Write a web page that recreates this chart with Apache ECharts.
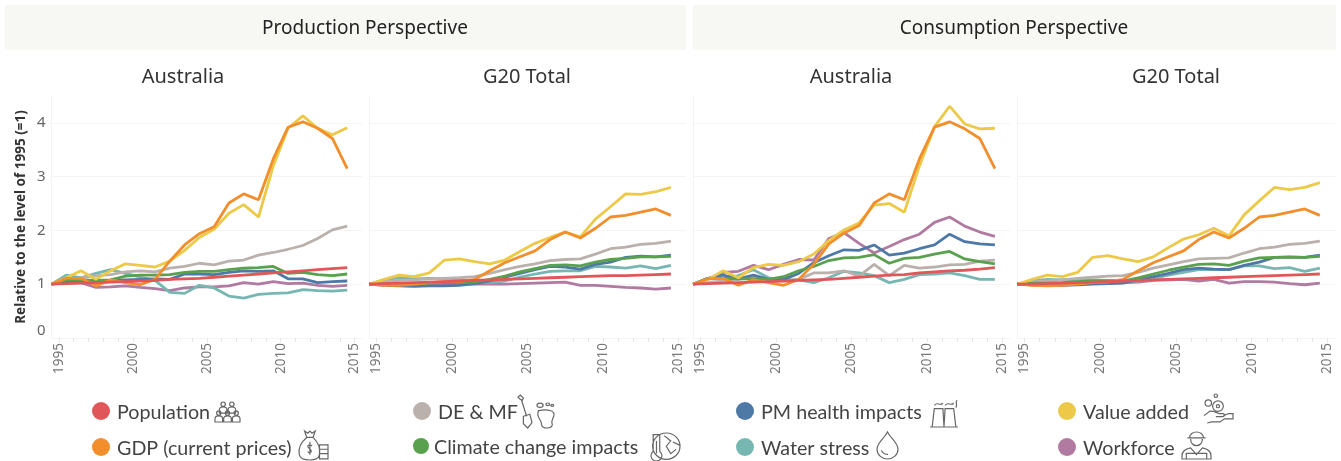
<!DOCTYPE html>
<html>
<head>
<meta charset="utf-8">
<title>Relative to 1995</title>
<style>
  html, body { margin: 0; background: #fff; }
  #chart { width: 1341px; height: 461px; }
</style>
<script src="https://cdn.jsdelivr.net/npm/echarts@6/dist/echarts.min.js"></script>
</head>
<body>
<div id="chart"></div>
<script>
const years = [1995,1996,1997,1998,1999,2000,2001,2002,2003,2004,2005,2006,2007,2008,2009,2010,2011,2012,2013,2014,2015];
const tickYears = [1995,2000,2005,2010,2015];
const yTicks = [0,1,2,3,4];

// production perspective, Australia
const prodAusWorkforce = [1,1.03,1.03,.94,.95,.97,.94,.92,.88,.93,.95,.95,.97,1.03,1,1.05,1.01,1.02,.98,.96,.98];
const prodAusWater = [1,1.17,1.12,1.2,1.27,1.2,1.13,1.07,.85,.83,.98,.93,.78,.74,.81,.83,.84,.9,.88,.87,.89];
const prodAusDeMf = [1,1.06,1.12,1.16,1.18,1.23,1.25,1.23,1.3,1.33,1.39,1.36,1.43,1.45,1.54,1.59,1.65,1.72,1.85,2.01,2.08];
const prodAusPm = [1,1.05,1.06,1.05,1.07,1.08,1.09,1.1,1.09,1.19,1.19,1.18,1.22,1.25,1.24,1.25,1.1,1.1,1.03,1.05,1.06];
const prodAusClimate = [1,1.08,1.08,1.07,1.08,1.15,1.17,1.17,1.18,1.22,1.24,1.24,1.27,1.3,1.31,1.33,1.2,1.22,1.18,1.16,1.19];
const prodAusValue = [1,1.12,1.25,1.09,1.25,1.38,1.35,1.32,1.43,1.63,1.87,2.02,2.32,2.48,2.25,3.2,3.9,4.13,3.9,3.78,3.91];
const prodAusGdp = [1,1.11,1.11,.97,1.08,1.03,.99,1.09,1.43,1.73,1.94,2.07,2.51,2.68,2.57,3.33,3.92,4.02,3.9,3.71,3.15];
const prodAusPop = [1,1.01,1.02,1.03,1.04,1.05,1.06,1.07,1.09,1.1,1.11,1.13,1.15,1.17,1.19,1.21,1.23,1.25,1.27,1.29,1.31];

// production perspective, G20 total
const prodG20Workforce = [1,.99,.99,.98,.99,1,1,1,1,1,1.01,1.02,1.03,1.04,.98,.98,.96,.94,.93,.91,.93];
const prodG20Water = [1,1.08,1.12,1.1,1.11,1.1,1.08,1.05,1.03,1.06,1.13,1.19,1.24,1.25,1.25,1.33,1.32,1.3,1.34,1.29,1.35];
const prodG20DeMf = [1,1.04,1.07,1.08,1.1,1.11,1.12,1.14,1.2,1.27,1.33,1.38,1.44,1.46,1.47,1.56,1.66,1.69,1.74,1.76,1.8];
const prodG20Pm = [1,.98,.97,.96,.97,.97,.98,1.01,1.06,1.13,1.2,1.27,1.33,1.32,1.28,1.37,1.41,1.5,1.52,1.51,1.54];
const prodG20Climate = [1,1,1,1,1.02,1.03,1.03,1.04,1.09,1.15,1.23,1.29,1.35,1.36,1.34,1.41,1.46,1.48,1.51,1.51,1.52];
const prodG20Value = [1,1.09,1.17,1.14,1.21,1.45,1.47,1.42,1.38,1.45,1.61,1.76,1.87,1.97,1.88,2.21,2.44,2.68,2.67,2.72,2.8];
const prodG20Gdp = [1,.98,.98,1,1.03,1.05,1.05,1.09,1.25,1.4,1.51,1.62,1.83,1.97,1.86,2.04,2.25,2.28,2.34,2.4,2.28];
const prodG20Pop = [1,1.01,1.02,1.03,1.04,1.05,1.06,1.07,1.08,1.09,1.1,1.11,1.12,1.13,1.14,1.15,1.16,1.16,1.17,1.18,1.19];

// consumption perspective, Australia
const consAusWorkforce = [1,1.1,1.22,1.24,1.35,1.27,1.37,1.46,1.45,1.85,1.96,1.76,1.58,1.7,1.83,1.93,2.15,2.25,2.08,1.97,1.89];
const consAusWater = [1,1.11,1.09,1.16,1.27,1.12,1.08,1.08,1.03,1.12,1.24,1.21,1.16,1.03,1.09,1.18,1.19,1.21,1.16,1.09,1.09];
const consAusDeMf = [1,1.03,1.06,1.09,1.13,1.09,1.07,1.09,1.21,1.21,1.25,1.15,1.37,1.16,1.35,1.3,1.32,1.36,1.37,1.43,1.45];
const consAusPm = [1,1.11,1.17,1.1,1.17,1.09,1.09,1.2,1.4,1.53,1.64,1.63,1.73,1.54,1.58,1.66,1.73,1.93,1.79,1.75,1.73];
const consAusClimate = [1,1.11,1.11,1.1,1.1,1.09,1.14,1.25,1.33,1.44,1.49,1.5,1.55,1.39,1.48,1.5,1.56,1.61,1.47,1.42,1.38];
const consAusValue = [1,1.09,1.25,1.12,1.31,1.37,1.35,1.42,1.56,1.81,2.01,2.14,2.47,2.5,2.34,3.2,3.93,4.31,3.98,3.89,3.9];
const consAusGdp = [1,1.1,1.11,.98,1.08,1.03,.98,1.09,1.37,1.75,1.95,2.09,2.51,2.68,2.57,3.33,3.92,4.02,3.89,3.71,3.15];
const consAusPop = [1,1.01,1.02,1.03,1.04,1.05,1.06,1.07,1.08,1.09,1.11,1.13,1.15,1.17,1.18,1.21,1.23,1.25,1.26,1.28,1.31];

// consumption perspective, G20 total
const consG20Workforce = [1,.99,.99,1,1.02,1.02,1.02,1.03,1.04,1.07,1.08,1.09,1.06,1.09,1.02,1.05,1.05,1.04,1.01,.99,1.02];
const consG20Water = [1,1.06,1.09,1.08,1.09,1.08,1.07,1.06,1.06,1.11,1.17,1.22,1.27,1.27,1.27,1.34,1.34,1.29,1.31,1.24,1.3];
const consG20DeMf = [1,1.04,1.06,1.08,1.11,1.13,1.15,1.16,1.22,1.3,1.36,1.42,1.47,1.48,1.49,1.58,1.66,1.69,1.74,1.76,1.8];
const consG20Pm = [1,.99,.98,.98,.99,1,1.01,1.02,1.08,1.14,1.2,1.27,1.3,1.28,1.27,1.35,1.41,1.5,1.51,1.5,1.54];
const consG20Climate = [1,1.02,1.02,1.03,1.05,1.06,1.06,1.06,1.12,1.19,1.26,1.32,1.37,1.38,1.35,1.43,1.49,1.5,1.5,1.5,1.52];
const consG20Value = [1,1.09,1.17,1.14,1.22,1.5,1.53,1.47,1.42,1.51,1.68,1.84,1.92,2.04,1.9,2.29,2.55,2.8,2.76,2.8,2.89];
const consG20Gdp = [1,.98,.97,.98,1,1.03,1.04,1.09,1.25,1.4,1.51,1.62,1.83,1.97,1.86,2.04,2.25,2.28,2.34,2.4,2.28];
const consG20Pop = [1,1,1.01,1.02,1.03,1.04,1.05,1.06,1.07,1.08,1.09,1.1,1.11,1.12,1.13,1.14,1.15,1.16,1.17,1.18,1.19];

const colors = {
  Population: "#e15759",
  "GDP (current prices)": "#f28e2b",
  "DE & MF": "#bab0ac",
  "Climate change impacts": "#59a14f",
  "PM health impacts": "#4e79a7",
  "Water stress": "#76b7b2",
  "Value added": "#edc948",
  Workforce: "#b07aa1"
};
// bottom to top drawing order, same as the value lists in each panel
const seriesOrder = ["Workforce","Water stress","DE & MF","PM health impacts","Climate change impacts","Value added","GDP (current prices)","Population"];

const panels = [
  { title: "Australia", left: 51.5, right: 362, values: [prodAusWorkforce,prodAusWater,prodAusDeMf,prodAusPm,prodAusClimate,prodAusValue,prodAusGdp,prodAusPop] },
  { title: "G20 Total", left: 369, right: 686, values: [prodG20Workforce,prodG20Water,prodG20DeMf,prodG20Pm,prodG20Climate,prodG20Value,prodG20Gdp,prodG20Pop] },
  { title: "Australia", left: 693, right: 1010, values: [consAusWorkforce,consAusWater,consAusDeMf,consAusPm,consAusClimate,consAusValue,consAusGdp,consAusPop] },
  { title: "G20 Total", left: 1017, right: 1335, values: [consG20Workforce,consG20Water,consG20DeMf,consG20Pm,consG20Climate,consG20Value,consG20Gdp,consG20Pop] }
];

const font = "Noto Sans";
const gridLine = "#f4f4f4";

function circle(cx, cy, r) {
  return `M${cx - r} ${cy}a${r} ${r} 0 1 0 ${2 * r} 0a${r} ${r} 0 1 0 ${-2 * r} 0`;
}
function person(cx, cy) {
  return circle(cx, cy, 2) + `M${cx - 3.5} ${cy + 8}v-3q0 -2.5 3.5 -2.5t3.5 2.5v3z`;
}

// legend icons, hand traced, boxes are [x, y, w, h]
const icons = [
  { box: [215, 402, 25, 20], path: person(8, 3) + person(16, 3) + person(4, 11) + person(12, 11) + person(20, 11) + "M1 19H23" },
  { box: [518, 395, 14, 33], path: "M3 1L6 4L5 6L3 5L1 3ZM4 5L9 21M6 21L12 19L14 27L10 32L6 28Z" },
  { box: [537, 403, 17, 25], path: circle(5, 3, 2) + circle(10, 2, 1.2) + circle(13, 3, 1) + "M4 8C10 6 15 8 14 13C13 17 12 18 13 21C13 25 6 26 6 21C6 16 2 14 4 8Z" },
  { box: [299, 431, 29, 29], path: "M6 1L9 3L11 1L13 3L16 1L14 7H8ZM8 7C2 12 0 18 1 23C2 28 8 28 11 28C14 28 19 28 20 23C21 18 19 12 14 7M8 7H14M9 20C10 22 13 21 12 19C11 17 9 17 9 15C10 13 12 14 13 15M11 11V23M20 14H28V18H20ZM20 18H28V22H20ZM20 22H28V27H20Z" },
  { box: [651, 433, 29, 28], path: circle(16, 13, 12.5) + "M4 2H10V18A5 5 0 1 1 4 18ZM7 8V20M14 3L20 8L16 13L20 20L25 16M28 12L22 9" },
  { box: [930, 400, 28, 27], path: "M1 26H27M3 26L5 9H13L14 26M14 26L15 9H23L25 26M5 6C8 2 10 7 13 4M15 6C18 2 20 7 23 4M26 1C24 4 27 5 25 8" },
  { box: [877, 432, 21, 27], path: "M10.5 1C8 7 1 11 1 18A9.5 9.5 0 0 0 20 18C20 11 13 7 10.5 1ZM5 19C6 22 8 23 11 23" },
  { box: [1204, 394, 29, 29], path: circle(5, 9, 3) + circle(12, 2, 1.6) + circle(14, 12, 5) + circle(14, 12, 1.5) + "M1 21L6 17C9 16 12 18 15 19H19C21 20 20 22 18 22H12M19 21L24 19H28V24H20L16 27L8 27L4 28" },
  { box: [1182, 432, 29, 27], path: "M8 8C8 1 21 1 21 8ZM6 8H23M9 9C9 17 20 17 20 9M9 17C4 18 1 20 1 24V27H28V24C28 20 25 18 20 17L14.5 23ZM5 22H24V27H5Z" }
];

const legendItems = [
  { name: "Population", left: 92, top: 402 },
  { name: "GDP (current prices)", left: 92, top: 438 },
  { name: "DE & MF", left: 413, top: 402 },
  { name: "Climate change impacts", left: 413, top: 438, textGap: 0, dot: 16 },
  { name: "PM health impacts", left: 736, top: 402 },
  { name: "Water stress", left: 736, top: 438 },
  { name: "Value added", left: 1058, top: 402 },
  { name: "Workforce", left: 1058, top: 438 }
];

const grid = [], xAxis = [], yAxis = [], series = [];
panels.forEach((p, i) => {
  grid.push({ left: p.left, width: p.right - p.left, top: 96, height: 242 });
  xAxis.push({
    type: "value", gridIndex: i, min: 1995, max: 2016,
    splitLine: { show: false },
    axisLine: { show: true, lineStyle: { color: gridLine } },
    axisTick: { length: 4, lineStyle: { color: "#e6e6e6" }, customValues: years.map(y => y + 0.5) },
    axisLabel: {
      rotate: 90, margin: 5, fontFamily: font, fontSize: 13.5, color: "#777",
      customValues: tickYears.map(y => y + 0.5),
      formatter: v => String(Math.floor(v))
    }
  });
  yAxis.push({
    type: "value", gridIndex: i, min: 0, max: 4.5,
    name: i === 0 ? "Relative to the level of 1995 (=1)" : "",
    nameLocation: "middle", nameGap: 23, nameRotate: 90,
    nameTextStyle: { fontFamily: font, fontSize: 13.5, fontWeight: "bold", color: "#333" },
    splitLine: { show: true, lineStyle: { color: gridLine } },
    axisLine: { show: true, lineStyle: { color: gridLine } },
    axisTick: { show: false, customValues: yTicks },
    axisLabel: {
      show: i === 0, margin: 6, fontFamily: font, fontSize: 15, color: "#666",
      customValues: yTicks, verticalAlignMinLabel: "bottom"
    }
  });
  seriesOrder.forEach((name, k) => {
    series.push({
      type: "line", name, xAxisIndex: i, yAxisIndex: i,
      data: years.map((y, j) => [y, p.values[k][j]]),
      showSymbol: false, silent: true,
      lineStyle: { width: 2.8, color: colors[name] },
      itemStyle: { color: colors[name] },
      z: 2 + k
    });
  });
});

// the icons next to the legend entries
series.push({
  type: "custom", coordinateSystem: "none", silent: true, data: icons.map((ic, i) => i),
  renderItem: (params, api) => {
    const ic = icons[api.value(0)];
    return {
      type: "path",
      shape: { pathData: ic.path, layout: "cover", x: ic.box[0], y: ic.box[1], width: ic.box[2], height: ic.box[3] },
      style: { fill: "none", stroke: "#666", lineWidth: 1.2 }
    };
  }
});

const titles = [
  { text: "Production Perspective", cx: 365, cy: 29, size: 19, color: "#222" },
  { text: "Consumption Perspective", cx: 1014, cy: 29, size: 19, color: "#222" }
];
panels.forEach((p, i) => titles.push({ text: p.title, cx: [183, 527, 851, 1176][i], cy: 77, size: 20, color: "#333" }));

const option = {
  animation: false,
  backgroundColor: "#fff",
  title: titles.map(t => ({
    text: t.text, left: t.cx, top: t.cy - 13, textAlign: "center", padding: 0,
    textStyle: { fontFamily: font, fontSize: t.size, fontWeight: "normal", color: t.color, lineHeight: 26 }
  })),
  legend: legendItems.map(l => ({
    show: true, data: [l.name], left: l.left, top: l.top, padding: 0,
    icon: "circle", itemWidth: l.dot || 18, itemHeight: 18, selectedMode: false,
    formatter: "{t|{name}}",
    textStyle: {
      rich: { t: { fontFamily: "Lato", fontSize: 19.7, color: "#444", padding: [4, 0, 0, l.textGap === undefined ? 2 : l.textGap] } }
    }
  })),
  grid, xAxis, yAxis, series,
  graphic: [
    { type: "rect", z: -1, shape: { x: 5, y: 5, width: 681, height: 45 }, style: { fill: "#f7f7f3" } },
    { type: "rect", z: -1, shape: { x: 693, y: 5, width: 643, height: 45 }, style: { fill: "#f7f7f3" } }
  ]
};

const chart = echarts.init(document.getElementById("chart"));
chart.setOption(option);
window.addEventListener("resize", () => chart.resize());
</script>
</body>
</html>
